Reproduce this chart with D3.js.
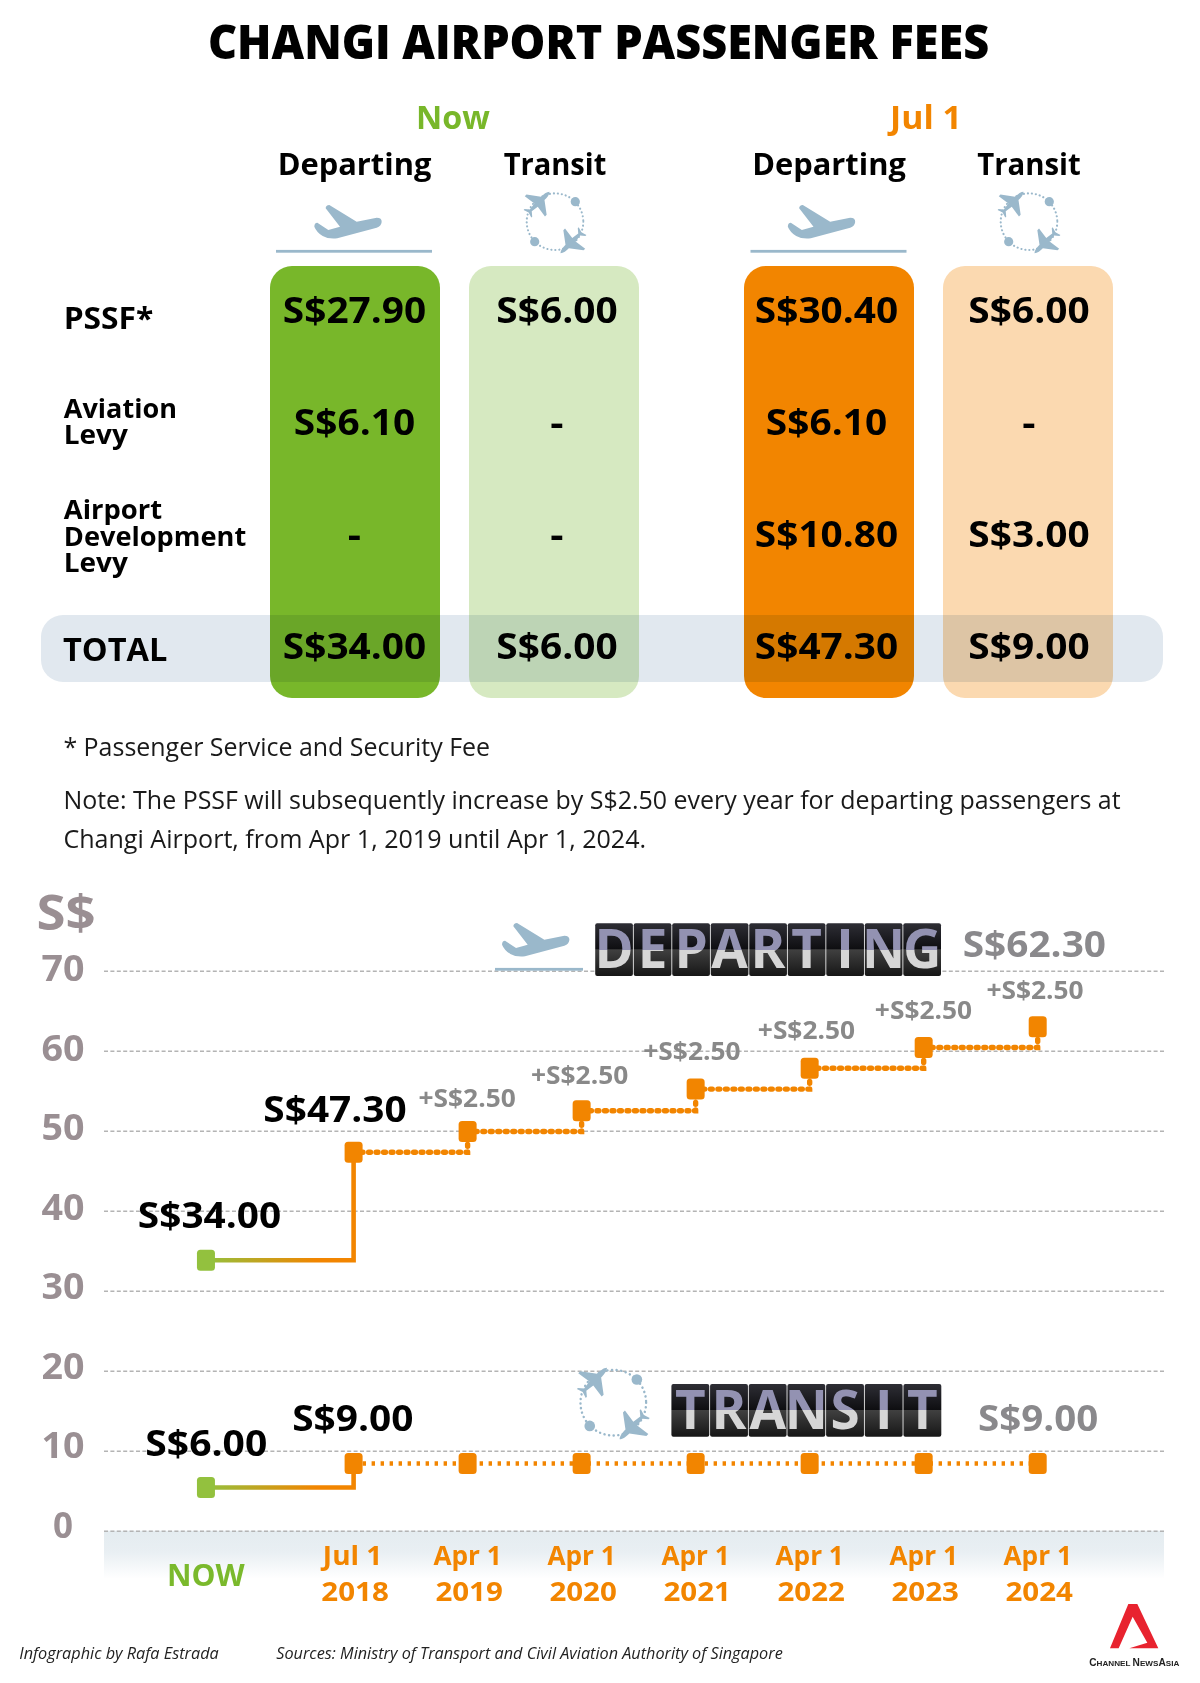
<!DOCTYPE html>
<html><head><meta charset="utf-8">
<script src="https://cdn.jsdelivr.net/npm/d3@7"></script>
<style>html,body{margin:0;padding:0;background:#fff}svg{display:block}text{font-family:"Open Sans",sans-serif}</style>
</head><body><div id="c"></div>
<script>
// ---------- data ----------
const titleText = 'CHANGI AIRPORT PASSENGER FEES';
const feeRows = [['PSSF*'], ['Aviation','Levy'], ['Airport','Development','Levy'], ['TOTAL']];
const nowDeparting = ['S$27.90','S$6.10','-','S$34.00'];
const nowTransit   = ['S$6.00','-','-','S$6.00'];
const julDeparting = ['S$30.40','S$6.10','S$10.80','S$47.30'];
const julTransit   = ['S$6.00','-','S$3.00','S$9.00'];
const periods = ['Now','Jul 1 2018','Apr 1 2019','Apr 1 2020','Apr 1 2021','Apr 1 2022','Apr 1 2023','Apr 1 2024'];
const departingValues = [33.8,47.3,49.9,52.5,55.2,57.8,60.4,63.0];
const transitValues   = [5.4,8.4,8.4,8.4,8.4,8.4,8.4,8.4];
const yTicks = [0,10,20,30,40,50,60,70];
const tickTop = ['Jul 1','Apr 1','Apr 1','Apr 1','Apr 1','Apr 1','Apr 1'];
const tickBottom = ['2018','2019','2020','2021','2022','2023','2024'];
const stepLabel = '+S$2.50';

// ---------- colours ----------
const GREEN='#78b72a', LGREEN='#d6e9c1', ORANGE='#f28500', LORANGE='#fbd9b0', BLUE='#9ab8cb',
      AXIS='#9a8f93', GREY='#8a898c', MARKGREEN='#93c13e';

const svg = d3.select('#c').append('svg').attr('width',1200).attr('height',1683).attr('viewBox','0 0 1200 1683');
const defs = svg.append('defs');

// text fitted between x0 and x1 on a baseline (padded for the glyphs' side bearings)
function tx(g,x0,x1,y,t,size,fill,weight,style){
  const pad=size*0.045;
  return g.append('text').attr('x',x0-pad).attr('y',y).attr('textLength',x1-x0+2*pad).attr('lengthAdjust','spacingAndGlyphs')
    .attr('font-size',size).attr('font-weight',weight==null?700:weight).attr('fill',fill||'#000')
    .attr('font-style',style||'normal').text(t);
}
const tc=(g,cx,w,y,t,size,fill,weight)=>tx(g,cx-w/2,cx+w/2,y,t,size,fill,weight);

tx(svg,210,987,59,titleText,47,'#000',800);

// ---------- table ----------
const panelX = d3.scaleOrdinal().domain([0,1,2,3]).range([270,469,744,943]);
const valueX = d3.scaleOrdinal().domain([0,1,2,3]).range([354.5,557,826.5,1029]);
const panelFill = [GREEN,LGREEN,ORANGE,LORANGE];
const tbl = svg.append('g');
tbl.selectAll('rect.panel').data(panelFill).join('rect').attr('class','panel')
  .attr('x',(d,i)=>panelX(i)).attr('y',266).attr('width',170).attr('height',432).attr('rx',22).attr('fill',d=>d);
tbl.append('rect').attr('x',41).attr('y',615).attr('width',1122).attr('height',67).attr('rx',22)
  .attr('fill','#e1e8ef').style('mix-blend-mode','multiply');

tc(svg,453,71,129,'Now',32,GREEN);
tc(svg,926,69,129,'Jul 1',32,ORANGE);
[[354.5,151,'Departing'],[555,100,'Transit'],[829,151,'Departing'],[1029,101,'Transit']]
  .forEach(d=>tc(svg,d[0],d[1],175,d[2],30,'#000'));

// row labels
tx(svg,65,152,329,feeRows[0][0],30);
tx(svg,65,175.7,417.7,feeRows[1][0],27);
tx(svg,65,126.7,444.3,feeRows[1][1],27);
tx(svg,65,161,519,feeRows[2][0],27);
tx(svg,65,245,545.7,feeRows[2][1],27);
tx(svg,65,126.7,572,feeRows[2][2],27);
tx(svg,64.5,166,660.7,feeRows[3][0],33);

// values
const rowBase=[322.7,435,547,658.7];
[nowDeparting,nowTransit,julDeparting,julTransit].forEach((col,c)=>{
  col.forEach((v,r)=>{
    const w = v==='-' ? 10 : (v.length>=7 ? 140 : 118);
    tc(svg,valueX(c),w,rowBase[r],v,36,'#000');
  });
});

// icons
const planeD='M197,115 Q197,106 208,105 L290,155 L350,143 Q366,143 365,156 Q364,168 350,173 L232,205 Q205,208 188,198 Q170,187 163,170 Q163,158 172,158 L205,180 L240,170 Z';
const smallPlaneD='M0,-48 C6,-42 7,-30 7,-20 L42,6 L42,13 L7,8 L4,30 L16,40 L16,44 L0,39 L-16,44 L-16,40 L-4,30 L-7,8 L-42,13 L-42,6 L-7,-20 C-7,-30 -6,-42 0,-48Z';
function departIcon(g,tx0,ty0,lx0,lx1,ly){
  g.append('path').attr('d',planeD).attr('fill',BLUE).attr('transform',`translate(${tx0},${ty0}) scale(${1/3})`);
  g.append('rect').attr('x',lx0).attr('y',ly-1.4).attr('width',lx1-lx0).attr('height',2.8).attr('fill',BLUE);
}
function transitIcon(g,cx,cy,k){
  const h=g.append('g').attr('transform',`translate(${cx},${cy}) scale(${k})`);
  h.append('circle').attr('r',28.3).attr('fill','none').attr('stroke',BLUE).attr('stroke-width',2.1)
    .attr('stroke-linecap','round').attr('stroke-dasharray','0.1 3.9');
  h.append('circle').attr('cx',20.3).attr('cy',-20).attr('r',4.6).attr('fill',BLUE);
  h.append('circle').attr('cx',-20.3).attr('cy',20).attr('r',4.6).attr('fill',BLUE);
  h.append('path').attr('d',smallPlaneD).attr('fill',BLUE).attr('transform','translate(-17,-18.5) rotate(45) scale(.34)');
  h.append('path').attr('d',smallPlaneD).attr('fill',BLUE).attr('transform','translate(17,20) rotate(225) scale(.34)');
}
departIcon(svg,260,170,276,432,251.3);
departIcon(svg,733.5,170,750.5,906.5,251.3);
transitIcon(svg,555,221.7,1);
transitIcon(svg,1029,221.7,1);

// notes
tx(svg,64.5,489,756,'* Passenger Service and Security Fee',25,'#1a1a1a',400);
tx(svg,64.5,1119.4,808.7,'Note: The PSSF will subsequently increase by S$2.50 every year for departing passengers at',25,'#1a1a1a',400);
tx(svg,64.5,645,847.5,'Changi Airport, from Apr 1, 2019 until Apr 1, 2024.',25,'#1a1a1a',400);

// ---------- chart ----------
const y = d3.scaleLinear().domain([0,70]).range([1530.7,970.7]);
const yLabel = d3.scaleLinear().domain([0,70]).range([1537.7,981]);
const xDates = d3.scalePoint().domain(periods.slice(1)).range([353.6,1037.7]);
const x = p => p===periods[0] ? xDates(periods[1])-1.295*xDates.step() : xDates(p);
const LEFT=104, RIGHT=1164;

const bandGrad=defs.append('linearGradient').attr('id','band').attr('x1',0).attr('y1',0).attr('x2',0).attr('y2',1);
bandGrad.append('stop').attr('offset',0).attr('stop-color','#e4ecf0');
bandGrad.append('stop').attr('offset',.45).attr('stop-color','#e9eff3');
bandGrad.append('stop').attr('offset',1).attr('stop-color','#ffffff');
svg.append('rect').attr('x',LEFT).attr('y',y(0)).attr('width',RIGHT-LEFT).attr('height',48).attr('fill','url(#band)');

// gridlines through the axis generator
const gridAxis = svg.append('g').attr('transform',`translate(${LEFT},0)`)
  .call(d3.axisLeft(y).tickValues(yTicks).tickSize(-(RIGHT-LEFT)).tickFormat(''));
gridAxis.select('.domain').remove();
gridAxis.selectAll('.tick line').attr('stroke','#b4b4b4').attr('stroke-width',1.6).attr('stroke-dasharray','4 2.4');

// y labels
svg.selectAll('text.ylab').data(yTicks).join('text').attr('class','ylab')
  .attr('x',63).attr('y',d=>yLabel(d)).attr('text-anchor','middle')
  .attr('font-size',35).attr('font-weight',700).attr('fill',AXIS)
  .attr('textLength',d=>d===0?20:43).attr('lengthAdjust','spacingAndGlyphs').text(d=>d);
tx(svg,38.7,93.5,930.3,'S$',48,AXIS);

// flip boards
function board(word,x0,x1,top,bottom,base,id){
  const n=word.length, w=(x1-x0)/n, mid=(top+bottom)/2;
  const tile=defs.append('linearGradient').attr('id','tile'+id).attr('gradientUnits','userSpaceOnUse')
    .attr('x1',0).attr('x2',0).attr('y1',top).attr('y2',bottom);
  [[0,'#2e2e35'],[.49,'#0e0e11'],[.5,'#404040'],[1,'#161616']].forEach(s=>tile.append('stop').attr('offset',s[0]).attr('stop-color',s[1]));
  const let_=defs.append('linearGradient').attr('id','let'+id).attr('gradientUnits','userSpaceOnUse')
    .attr('x1',0).attr('x2',0).attr('y1',top).attr('y2',bottom);
  [[0,'#9392b2'],[.5,'#9392b2'],[.5,'#d6d6d6'],[1,'#d6d6d6']].forEach(s=>let_.append('stop').attr('offset',s[0]).attr('stop-color',s[1]));
  const g=svg.append('g');
  g.selectAll('rect').data(word.split('')).join('rect')
    .attr('x',(d,i)=>x0+i*w+.4).attr('y',top).attr('width',w-.8).attr('height',bottom-top).attr('rx',2)
    .attr('fill',`url(#tile${id})`);
  g.selectAll('text').data(word.split('')).join('text')
    .attr('x',(d,i)=>x0+i*w+w/2).attr('y',base).attr('text-anchor','middle')
    .attr('font-size',53).attr('font-weight',700).attr('fill',`url(#let${id})`).text(d=>d);
}
departIcon(svg,447.7,888,495,583,969.3);
board('DEPARTING',594.8,941.4,923.3,976,968.3,'d');
transitIcon(svg,613.3,1402.7,1.16);
board('TRANSIT',671,941.7,1384,1436.7,1429.3,'t');

// step lines
const lineGen = d3.line().x(d=>x(d.p)).y(d=>y(d.v)).curve(d3.curveStepAfter);
function series(values,id,dash,dotW,cap){
  const pts=periods.map((p,i)=>({p,v:values[i]}));
  const grad=defs.append('linearGradient').attr('id','g'+id).attr('gradientUnits','userSpaceOnUse')
    .attr('x1',x(periods[0])).attr('x2',x(periods[1])).attr('y1',0).attr('y2',0);
  grad.append('stop').attr('offset',0).attr('stop-color',MARKGREEN);
  grad.append('stop').attr('offset',.75).attr('stop-color',ORANGE);
  svg.append('path').attr('d',lineGen(pts.slice(0,2))).attr('fill','none')
    .attr('stroke',`url(#g${id})`).attr('stroke-width',4.6);
  svg.append('path').attr('d',lineGen(pts.slice(1))).attr('fill','none').attr('stroke',ORANGE)
    .attr('stroke-width',dotW).attr('stroke-dasharray',dash).attr('stroke-linecap',cap);
  svg.selectAll('rect.m'+id).data(pts).join('rect').attr('class','m'+id)
    .attr('x',d=>x(d.p)-9).attr('y',d=>y(d.v)-10.5).attr('width',18).attr('height',21).attr('rx',3.5)
    .attr('fill',(d,i)=>i===0?MARKGREEN:ORANGE);
}
series(departingValues,'d','1.9 5.6',5.4,'round');
series(transitValues,'t','3.4 5.6',4.6,'butt');

// annotations
tc(svg,209.5,140,1228.3,'S$34.00',36,'#000');
tc(svg,335,140,1121.7,'S$47.30',36,'#000');
const plusDx=[-.5,-2,-3.7,-3.2,-.2,-2.7], plusDy=[-24.3,-26.7,-29,-29.7,-28.7,-27.7];
periods.slice(2).forEach((p,i)=>{
  tc(svg,x(p)+plusDx[i],95,y(departingValues[i+2])+plusDy[i],stepLabel,25,'#898989');
});
tc(svg,1034.4,140,957.3,'S$62.30',36,GREY);
tc(svg,206.3,118.6,1455.7,'S$6.00',36,'#000');
tc(svg,352.8,118,1431.3,'S$9.00',36,'#000');
tc(svg,1038.2,117,1431.3,'S$9.00',36,GREY);

// x labels
tc(svg,205.9,75,1586,'NOW',30,'#7ab92c');
periods.slice(1).forEach((p,i)=>{
  tc(svg,x(p)+(i?0:-1),i?66:57,1565,tickTop[i],27,ORANGE);
  tc(svg,x(p)+1.5,65,1600.7,tickBottom[i],27,ORANGE);
});

// footer
tx(svg,20,218,1659,'Infographic by Rafa Estrada',16.5,'#222',400,'italic');
tx(svg,277,782,1659,'Sources: Ministry of Transport and Civil Aviation Authority of Singapore',16.5,'#222',400,'italic');
svg.append('path').attr('d','M150,175 L205,42 L232,42 L295,175 L208,175 L262,158 L218,80 L176,175 Z')
  .attr('fill','#e8232f').attr('transform','translate(1060,1590) scale(0.3333)');
const cna=svg.append('text').attr('x',1089.3).attr('y',1666).attr('textLength',90).attr('lengthAdjust','spacingAndGlyphs')
  .attr('font-size',8).attr('font-weight',700).attr('fill','#222').style('font-family','"Liberation Sans",sans-serif');
[['C',10],['HANNEL ',8],['N',10],['EWS',8],['A',10],['SIA',8]].forEach(s=>cna.append('tspan').attr('font-size',s[1]).text(s[0]));
</script></body></html>
